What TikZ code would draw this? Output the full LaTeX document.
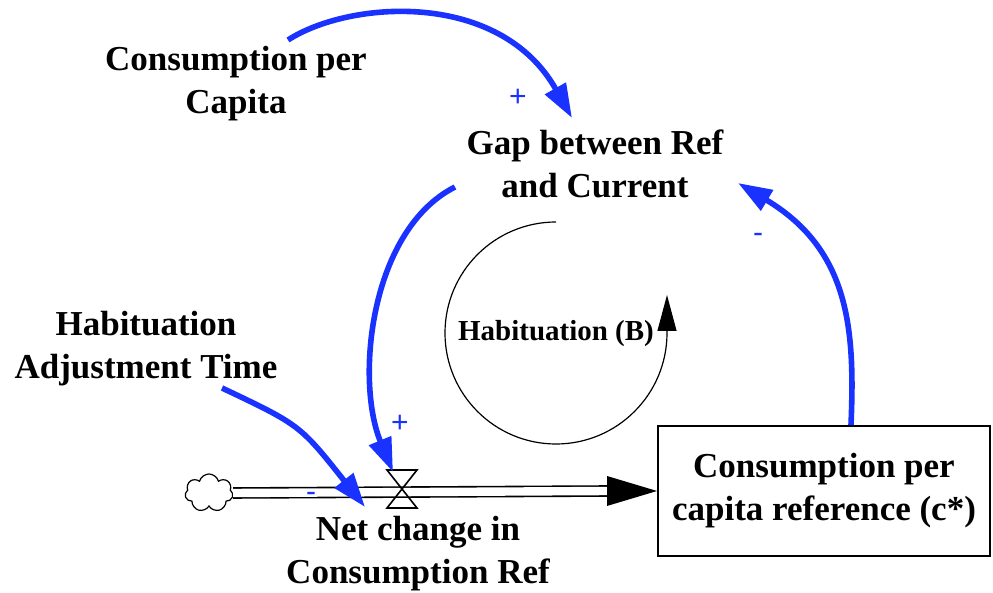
\documentclass[tikz,border=0pt]{standalone}
\usepackage{fontspec}
\setmainfont{Liberation Serif}
\setsansfont{Liberation Sans}
\usetikzlibrary{calc,arrows.meta,positioning,shapes.symbols}
\definecolor{linkblue}{RGB}{25,50,255}
\tikzset{
  varlabel/.style={align=center, font=\fontsize{17.5}{21.5}\selectfont\bfseries, inner sep=1pt},
  stockbox/.style={draw=black, line width=1pt, align=center, minimum width=166pt,
    minimum height=65pt, font=\fontsize{17.5}{21.5}\selectfont\bfseries},
  link/.style={draw=linkblue, line width=2.8pt, -{Triangle[length=17pt,width=11.5pt]}},
  polarity/.style={text=linkblue, font=\sffamily\fontsize{15}{15}\selectfont, inner sep=0pt},
  pipe/.style={draw=black, line width=0.8pt, double, double distance=4.2pt},
  loopline/.style={draw=black, line width=0.6pt}
}
\begin{document}
\begin{tikzpicture}[x=0.5pt, y=-0.5pt]
  \useasboundingbox (0,0) rectangle (993,593);

  % variables
  \node[varlabel] (cpc) at (236,84) {Consumption per\\Capita};
  \node[varlabel] (gap) at (595,164) {Gap between Ref\\and Current};
  \node[varlabel] (hat) at (146,349) {Habituation\\Adjustment Time};
  \node[varlabel] (net) at (418,554) {Net change in\\Consumption Ref};
  \node[stockbox] (ref) at (824,491) {Consumption per\\capita reference (c*)};

  % flow: cloud, pipe, valve
  \node[cloud, draw=black, line width=0.6pt, cloud puffs=7, minimum width=24pt, minimum height=19pt, inner sep=0pt] (src) at (209,493) {};
  \coordinate (valve) at (402,489);
  \draw[pipe] (src.east) -- ([xshift=-24pt]ref.west);
  \fill[black] (ref.west) -- ++(-50,-15) -- ++(0,30) -- cycle;
  \draw[line width=0.8pt] (valve) -- ++(-15,-19) -- ++(30,0) -- cycle;
  \draw[line width=0.8pt] (valve) -- ++(-15,19) -- ++(30,0) -- cycle;

  % loop marker
  \coordinate (loopc) at (556,333);
  \draw[loopline, -{Triangle[length=18pt,width=9.5pt]}] ([yshift=55.5pt]loopc)
    arc[start angle=90, end angle=360, radius=55.5pt] -- ++(0,-38);
  \node[font=\fontsize{14.5}{14.5}\selectfont\bfseries] (loopname) at (556,334) {Habituation (B)};

  % causal links
  \coordinate (cpc-out) at (288,40);
  \coordinate (gap-in) at (572,118);
  \coordinate (gap-out) at (455,187);
  \coordinate (valve-in) at (393,472);
  \coordinate (hat-out) at (222,388);
  \coordinate (net-in) at (365,507);
  \coordinate (ref-out) at (851,425);
  \coordinate (gap-in2) at (738,183);
  \draw[link] (cpc-out) .. controls (350,0) and (500,-10) .. (gap-in);
  \draw[link] (gap-out) .. controls (370,230) and (355,380) .. (valve-in);
  \draw[link] (hat-out) .. controls (300,425) .. (net-in);
  \draw[link] (ref-out) .. controls (855,330) and (850,250) .. (gap-in2);

  % polarities
  \node[polarity] (p1) at (518,98) {+};
  \node[polarity] (p2) at (400,424) {+};
  \node[polarity] (p3) at (311,497) {-};
  \node[polarity] (p4) at (758,238) {-};
\end{tikzpicture}
\end{document}
